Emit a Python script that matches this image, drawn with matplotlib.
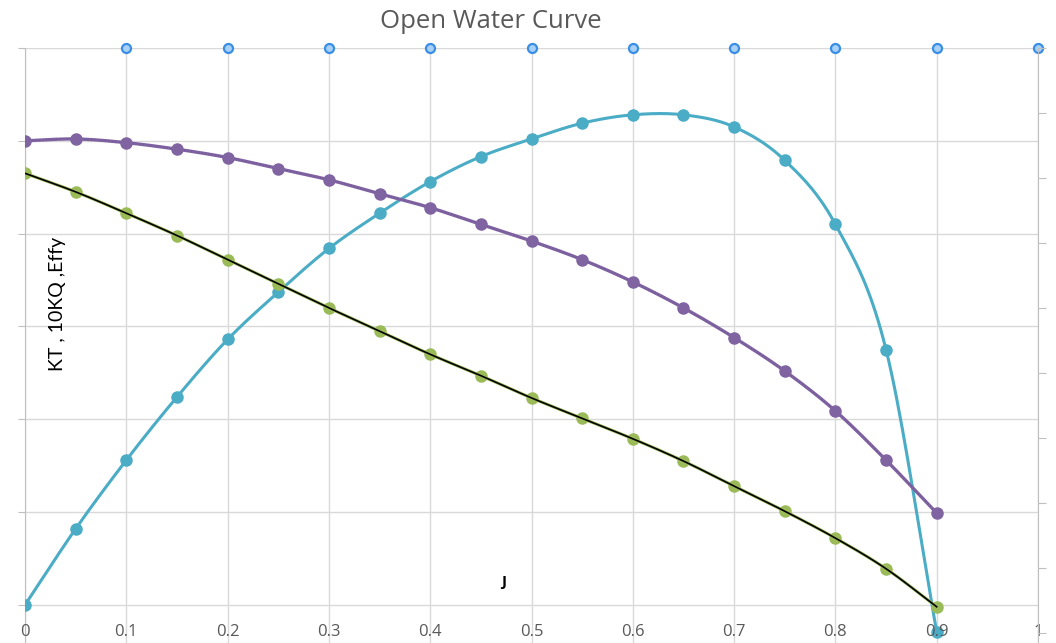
import numpy as np
import matplotlib.pyplot as plt

plt.rcParams['font.family'] = ['Open Sans', 'DejaVu Sans']

# advance coefficient J
J = [0.0, 0.05, 0.10, 0.15, 0.20, 0.25, 0.30, 0.35, 0.40, 0.45,
     0.50, 0.55, 0.60, 0.65, 0.70, 0.75, 0.80, 0.85, 0.90]

kt = [0.465, 0.445, 0.422, 0.398, 0.372, 0.346, 0.320, 0.295, 0.270, 0.247,
      0.223, 0.201, 0.179, 0.155, 0.128, 0.101, 0.072, 0.039, -0.002]
kq10 = [0.500, 0.502, 0.498, 0.491, 0.482, 0.470, 0.458, 0.443, 0.428, 0.410,
        0.392, 0.372, 0.348, 0.320, 0.288, 0.252, 0.209, 0.156, 0.099]
effy = [0.000, 0.082, 0.156, 0.224, 0.286, 0.337, 0.384, 0.422, 0.456, 0.483,
        0.502, 0.519, 0.528, 0.528, 0.515, 0.479, 0.410, 0.275, -0.029]

top_x = [0.1, 0.2, 0.3, 0.4, 0.5, 0.6, 0.7, 0.8, 0.9, 1.0]
x_ticks = [0, 0.1, 0.2, 0.3, 0.4, 0.5, 0.6, 0.7, 0.8, 0.9, 1.0]
x_labels = ['0', '0.1', '0.2', '0.3', '0.4', '0.5', '0.6', '0.7', '0.8', '0.9', '1']
y_grid = [0, 0.1, 0.2, 0.3, 0.4, 0.5, 0.6]

C_EFF = '#4bacc6'
C_KQ = '#8064a2'
C_KT = '#9bbb59'
C_GRID = '#d9d9d9'


def smooth(x, y, n=20):
    # catmull-rom through the points, like excel's smoothed line
    x = np.asarray(x, float)
    y = np.asarray(y, float)
    px = np.concatenate([[2 * x[0] - x[1]], x, [2 * x[-1] - x[-2]]])
    py = np.concatenate([[2 * y[0] - y[1]], y, [2 * y[-1] - y[-2]]])
    t = np.linspace(0, 1, n)[:-1]
    xs, ys = [], []
    for i in range(1, len(px) - 2):
        for p, out in ((px, xs), (py, ys)):
            p0, p1, p2, p3 = p[i - 1], p[i], p[i + 1], p[i + 2]
            out.extend(0.5 * ((2 * p1) + (-p0 + p2) * t
                              + (2 * p0 - 5 * p1 + 4 * p2 - p3) * t ** 2
                              + (-p0 + 3 * p1 - 3 * p2 + p3) * t ** 3))
    xs.append(x[-1])
    ys.append(y[-1])
    return np.array(xs), np.array(ys)


fig = plt.figure(figsize=(10.56, 6.43), dpi=100)
ax = fig.add_axes([25 / 1056, 0, 1013 / 1056, 595 / 643])
ax.set_xlim(0, 1.0)
ax.set_ylim(-0.041, 0.6)

for s in ['top', 'bottom']:
    ax.spines[s].set_visible(False)
ax.spines['left'].set_color('#bfbfbf')
ax.spines['right'].set_visible(False)

ax.set_xticks(x_ticks)
ax.set_xticklabels([])
ax.tick_params(axis='x', length=0)
ax.set_yticks(y_grid)
ax.set_yticklabels([])
ax.tick_params(axis='y', direction='out', length=5, color='#bfbfbf')
ax.grid(True, color=C_GRID, linewidth=1)
ax.set_axisbelow(True)

# efficiency
sx, sy = smooth(J, effy)
ax.plot(sx, sy, color=C_EFF, lw=2.2, zorder=3)
ax.plot(J, effy, 'o', color=C_EFF, ms=8, zorder=3)

# 10KQ with dotted trend on top
sx, sy = smooth(J, kq10)
ax.plot(sx, sy, color=C_KQ, lw=2.4, zorder=4)
ax.plot(sx, sy, color='#74589a', lw=1.0, ls=(0, (1, 1.5)), zorder=4)
ax.plot(J, kq10, 'o', color=C_KQ, ms=8, zorder=4)

# KT, green markers with black trend line
sx, sy = smooth(J, kt)
ax.plot(sx, sy, color=C_KT, lw=2.2, zorder=4)
ax.plot(J, kt, 'o', color=C_KT, ms=8, zorder=4)
ax.plot(sx, sy, color='black', lw=1.2, zorder=5)

# hollow markers along the top
ax.plot(top_x, [0.6] * len(top_x), 'o', ms=6.5, mfc='#a9d1f5', mec='#3a8ee6',
        mew=1.6, clip_on=False, zorder=6)

for xv, lab in zip(x_ticks, x_labels):
    ax.text(xv, -0.0295, lab, ha='center', va='center', fontsize=12,
            color='#595959', zorder=7)

# secondary axis, ticks only
ax2 = ax.twinx()
ax2.set_ylim(-1.154, 8)
ax2.set_yticks(range(-1, 9))
ax2.set_yticklabels([])
ax2.tick_params(axis='y', direction='out', length=6, color='#bfbfbf')
for s in ['top', 'bottom', 'left']:
    ax2.spines[s].set_visible(False)
ax2.spines['right'].set_color('#bfbfbf')

fig.text(491 / 1056, 1 - 22 / 643, 'Open Water Curve', ha='center', va='center',
         fontsize=18.5, color='#595959')
fig.text(57 / 1056, 1 - 304 / 643, 'KT , 10KQ ,Effy', rotation=90, ha='center',
         va='center', fontsize=14, color='black', family=['Lato', 'DejaVu Sans'])
ax.text(0.473, 0.025, 'J', ha='center', va='center', fontsize=11,
        fontweight='bold', color='black')

fig.savefig('out.png', dpi=100)
